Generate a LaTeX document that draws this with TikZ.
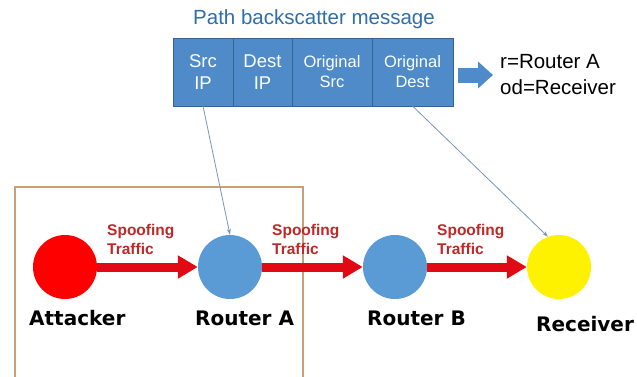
\documentclass[tikz,border=0pt]{standalone}
\usepackage{fontspec}
\setmainfont{Liberation Sans}
\newfontfamily\heavyfont{DejaVu Sans}
\usetikzlibrary{positioning,arrows.meta}

\definecolor{cellblue}{RGB}{79,139,201}
\definecolor{cellline}{RGB}{52,100,150}
\definecolor{hostblue}{RGB}{91,155,213}
\definecolor{titleblue}{RGB}{46,110,170}
\definecolor{spoofred}{RGB}{225,10,20}
\definecolor{tagred}{RGB}{190,40,40}
\definecolor{hintblue}{RGB}{120,150,180}
\definecolor{frametan}{RGB}{200,160,120}

\begin{document}
\begin{tikzpicture}[x=1pt, y=-1pt, node distance=0pt]
	\tikzstyle{cell} = [rectangle, draw=cellline, fill=cellblue, text=white, align=center, minimum height=68pt, inner sep=0pt, outer sep=0pt, font=\fontsize{18.5}{22}\selectfont]
	\tikzstyle{host} = [circle, minimum size=64pt, inner sep=0pt]
	\tikzstyle{hostname} = [anchor=base west, inner sep=0pt, font=\heavyfont\bfseries\fontsize{20}{24}\selectfont]
	\tikzstyle{tag} = [anchor=west, inner sep=0pt, align=left, text=tagred, font=\bfseries\fontsize{15.5}{19}\selectfont]
	\tikzstyle{spoof} = [draw=spoofred, line width=9pt, -{Triangle[length=20pt,width=22pt]}]
	\tikzstyle{hint} = [draw=hintblue, line width=0.8pt, -{Stealth[length=6pt,width=4pt]}]

	\useasboundingbox (0,0) rectangle (637,376);

	% Local area frame
	\draw [frametan, line width=1.2pt] (15,187) rectangle (303,380);

	% Place message
	\node [text=titleblue, font=\fontsize{20.5}{24}\selectfont] (title) at (314,19) {Path backscatter message};
	\node [cell, minimum width=60pt] (src) at (203,72) {Src\\IP};
	\node [cell, minimum width=59pt, right=of src] (dst) {Dest\\IP};
	\node [cell, minimum width=80pt, right=of dst, font=\fontsize{16.5}{20}\selectfont] (osrc) {Original\\Src};
	\node [cell, minimum width=81pt, right=of osrc, font=\fontsize{16.5}{20}\selectfont] (odst) {Original\\Dest};
	\node [anchor=west, inner sep=0pt, align=left, font=\fontsize{20.5}{26}\selectfont] (note) at (500,75) {r=Router A\\od=Receiver};

	% Place hosts
	\node [host, fill=red] (att) at (65,267) {};
	\node [host, fill=hostblue] (ra) at (230,267) {};
	\node [host, fill=hostblue] (rb) at (395,267) {};
	\node [host, fill=yellow] (recv) at (559,267) {};

	\node [hostname] (attname) at (29,325) {Attacker};
	\node [hostname] (raname) at (195,325) {Router A};
	\node [hostname] (rbname) at (367,325) {Router B};
	\node [hostname] (recvname) at (536,331) {Receiver};

	\node [tag] (tag1) at (107,239) {Spoofing\\Traffic};
	\node [tag] (tag2) at (272,239) {Spoofing\\Traffic};
	\node [tag] (tag3) at (437,239) {Spoofing\\Traffic};

	% Draw edges
	\draw [spoof] (att) -- (ra);
	\draw [spoof] (ra) -- (rb);
	\draw [spoof] (rb) -- (recv);

	\draw [draw=cellblue, line width=15pt, -{Triangle[length=15pt,width=26pt]}, shorten <=5pt, shorten >=7pt] (odst.east |- note) -- (note);

	\draw [hint] (src.south) -- (ra.north);
	\draw [hint] (odst.south) -- (recv.110);
\end{tikzpicture}
\end{document}
